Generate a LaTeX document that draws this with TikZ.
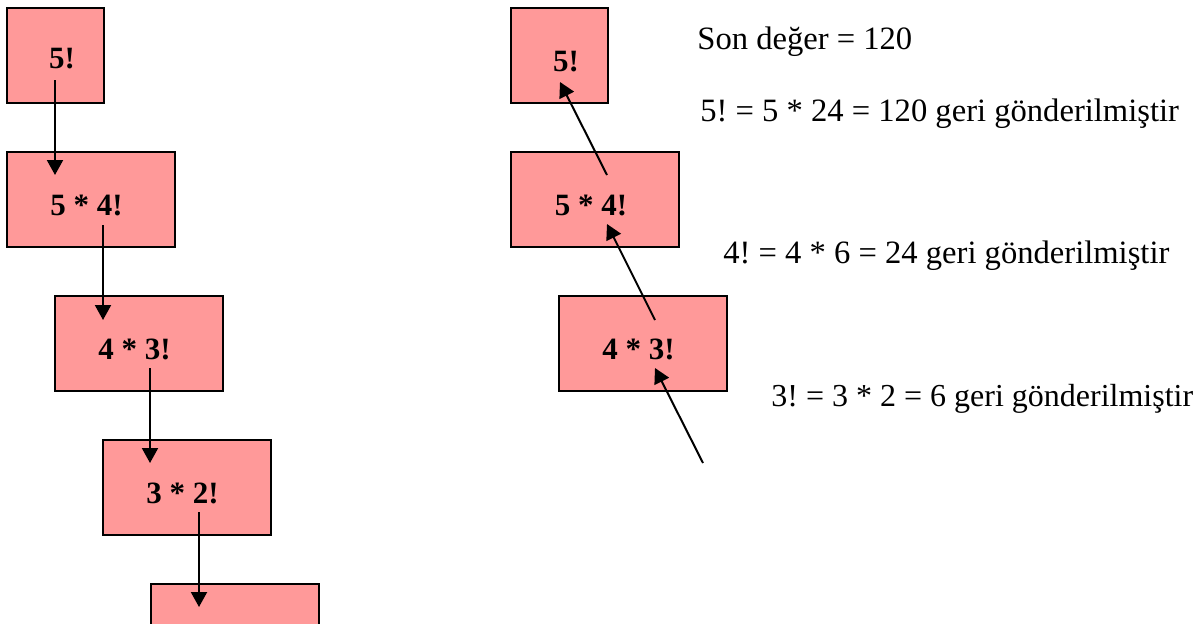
\documentclass[tikz,border=0pt]{standalone}
\usepackage{fontspec}
\setmainfont{Liberation Serif}
\usetikzlibrary{arrows.meta,calc}
\definecolor{boxpink}{HTML}{FF9999}
\frenchspacing

\begin{document}
\begin{tikzpicture}[x=0.5pt,y=-0.5pt,
    factbox/.style={draw=black,line width=1pt,fill=boxpink,minimum width=84pt,minimum height=47.5pt,inner sep=0pt},
    narrow/.style={minimum width=48.5pt},
    boxtext/.style={font=\fontsize{15.5}{18}\selectfont\bfseries,inner sep=0pt},
    note/.style={font=\fontsize{16.3}{20}\selectfont,inner sep=0pt,anchor=base west},
    arr/.style={-{Triangle[length=7.5pt,width=8pt]},line width=1pt}]
  \useasboundingbox (0,0) rectangle (1200,623);
  \clip (0,0) rectangle (1200,623);
  % calls going down
  \node[factbox,narrow,label={[boxtext,xshift=3.25pt,yshift=-1.5pt]center:5!}] (L1) at (55.5,55.5) {};
  \node[factbox,label={[boxtext,xshift=-2.25pt,yshift=-2.75pt]center:5 * 4!}] (L2) at (91,199.5) {};
  \node[factbox,label={[boxtext,xshift=-2.25pt,yshift=-2.75pt]center:4 * 3!}] (L3) at (139,343.5) {};
  \node[factbox,label={[boxtext,xshift=-2.25pt,yshift=-2.75pt]center:3 * 2!}] (L4) at (187,487.5) {};
  \node[factbox] (L5) at (235,631.5) {};
  \draw[arr] ($(L1.center)+(-0.5,24.5)$) -- ($(L2.center)+(-36,-24.5)$);
  \draw[arr] ($(L2.center)+(12,25.5)$) -- ($(L3.center)+(-36,-23.5)$);
  \draw[arr] ($(L3.center)+(11,24.5)$) -- ($(L4.center)+(-37,-24.5)$);
  \draw[arr] ($(L4.center)+(12,24.5)$) -- ($(L5.center)+(-36,-24.5)$);
  % values coming back
  \node[factbox,narrow,label={[boxtext,xshift=3.5pt,yshift=-3pt]center:5!}] (R1) at (559,55.5) {};
  \node[factbox,label={[boxtext,xshift=-2pt,yshift=-2.75pt]center:5 * 4!}] (R2) at (595,199.5) {};
  \node[factbox,label={[boxtext,xshift=-2.25pt,yshift=-2.75pt]center:4 * 3!}] (R3) at (643,343.5) {};
  \coordinate (ret3) at (703,463);
  \draw[arr] ($(R2.center)+(12,-24.5)$) -- ($(R1.center)+(1,26.5)$);
  \draw[arr] ($(R3.center)+(12,-23.5)$) -- ($(R2.center)+(12,24.5)$);
  \draw[arr] (ret3) -- ($(R3.center)+(12,24.5)$);
  \node[note] (t0) at (697,49) {Son değer = 120};
  \node[note] (t1) at (700,121) {5! = 5 * 24 = 120 geri gönderilmiştir};
  \node[note] (t2) at (723,263) {4! = 4 * 6 = 24 geri gönderilmiştir};
  \node[note,font=\fontsize{16}{20}\selectfont] (t3) at (771,406) {3! = 3 * 2 = 6 geri gönderilmiştir};
\end{tikzpicture}
\end{document}
